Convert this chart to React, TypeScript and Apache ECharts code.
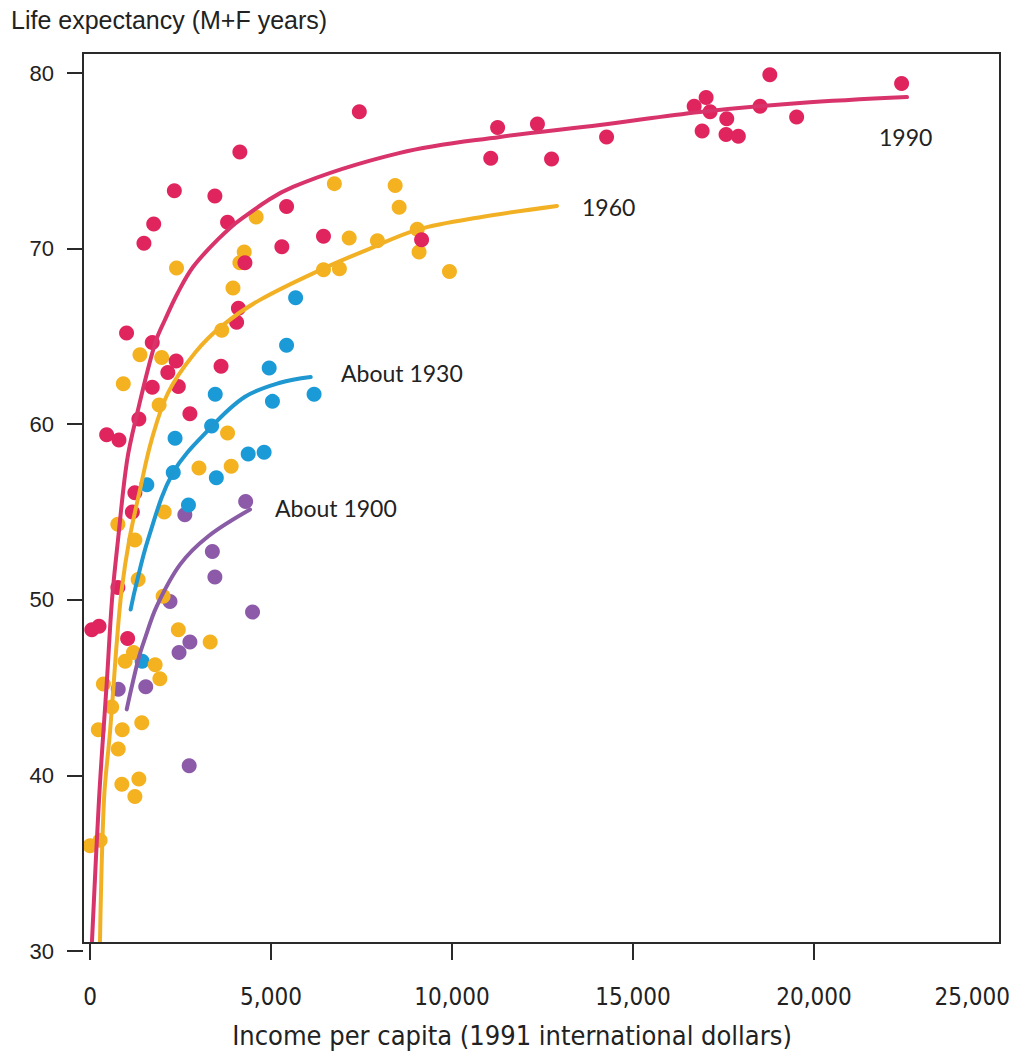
import React, { useEffect, useRef } from "react";
import * as echarts from "echarts";

// ---- axis ticks ----
const xTicks = [0, 5000, 10000, 15000, 20000, 25000];
const xTickLabels = ["0", "5,000", "10,000", "15,000", "20,000", "25,000"];
const yTickLabels = ["30", "40", "50", "60", "70", "80"];

// ---- scatter points [income, life expectancy] ----
const dots1990: [number, number][] = [
  [50, 48.3], [250, 48.5], [460, 59.4], [800, 59.1], [770, 50.7], [1040, 47.8],
  [1010, 65.2], [1170, 55.0], [1240, 56.1], [1350, 60.3], [1490, 70.3], [1760, 71.4],
  [1720, 64.65], [1720, 62.1], [2150, 62.95], [2380, 63.6], [2440, 62.15], [2330, 73.3],
  [2760, 60.6], [3450, 73.0], [3620, 63.3], [3800, 71.5], [4050, 65.8], [4100, 66.6],
  [4140, 75.5], [4280, 69.2], [5300, 70.1], [5430, 72.4], [6450, 70.7], [7440, 77.8],
  [9160, 70.5], [11070, 75.15], [11260, 76.9], [12360, 77.1], [12750, 75.1], [14270, 76.35],
  [16690, 78.1], [17020, 78.6], [17130, 77.8], [16910, 76.7], [17590, 77.4], [17570, 76.5],
  [17910, 76.4], [18510, 78.1], [18780, 79.9], [19520, 77.5], [22420, 79.4],
];
const dots1960: [number, number][] = [
  [0, 36.0], [280, 36.3], [230, 42.6], [370, 45.2], [600, 43.9], [770, 54.3],
  [780, 41.5], [880, 39.5], [920, 62.3], [890, 42.6], [970, 46.5], [1200, 47.0],
  [1240, 38.8], [1240, 53.4], [1330, 51.15], [1350, 39.8], [1380, 63.95], [1430, 43.0],
  [1800, 46.3], [1930, 45.5], [1910, 61.1], [1980, 63.8], [2050, 55.0], [2020, 50.2],
  [2390, 68.9], [2440, 48.3], [3010, 57.5], [3320, 47.6], [3640, 65.35], [3800, 59.5],
  [3900, 57.6], [3950, 67.75], [4260, 69.8], [4140, 69.2], [4590, 71.8], [6450, 68.8],
  [6890, 68.85], [6750, 73.7], [7160, 70.6], [7940, 70.45], [8430, 73.6], [8540, 72.35],
  [9040, 71.1], [9090, 69.8], [9930, 68.7],
];
const dots1930: [number, number][] = [
  [1440, 46.5], [1570, 56.55], [2300, 57.25], [2350, 59.2], [2720, 55.4], [3360, 59.9],
  [3460, 61.7], [3490, 56.95], [4370, 58.3], [4810, 58.4], [4950, 63.2], [5040, 61.3],
  [5430, 64.5], [5680, 67.2], [6190, 61.7],
];
const dots1900: [number, number][] = [
  [780, 44.9], [1540, 45.05], [2210, 49.9], [2460, 47.0], [2620, 54.85], [2760, 47.6],
  [2740, 40.55], [3380, 52.75], [3450, 51.3], [4300, 55.6], [4490, 49.3],
];

// ---- fitted curves ----
const curve1990: [number, number][] = [
  [55, 30.56], [249, 38.63], [470, 45.5], [608, 50.0], [773, 53.4], [1022, 57.9],
  [1290, 60.5], [1796, 64.6], [2072, 65.95], [2430, 67.5], [2845, 68.95], [3500, 70.45],
  [4144, 71.64], [5608, 73.51], [8563, 75.45], [11326, 76.36], [14088, 77.04], [16851, 77.78],
  [19613, 78.29], [22569, 78.63],
];
const curve1960: [number, number][] = [
  [276, 30.56], [387, 38.63], [552, 42.45], [663, 45.46], [746, 47.74], [876, 50.58],
  [1086, 53.43], [1381, 56.27], [1704, 59.12], [2155, 61.79], [2901, 64.07], [3646, 65.6],
  [4696, 67.08], [6547, 68.96], [7652, 69.93], [9033, 71.07], [10856, 71.81], [12900, 72.43],
];
const curve1930: [number, number][] = [
  [1124, 49.45], [1243, 50.58], [1602, 53.43], [2293, 57.24], [3362, 59.87], [4282, 61.56],
  [5249, 62.36], [6097, 62.69],
];
const curve1900: [number, number][] = [
  [1014, 43.76], [1334, 46.6], [1519, 47.8], [1842, 49.63], [2486, 52.0], [3268, 53.62],
  [4420, 55.14],
];

const seriesNames = ["About 1900", "About 1930", "1960", "1990"];
const dotColors = ["#8c5aa8", "#1a9ad6", "#f5b220", "#e0245e"];
const lineColors = ["#8a5ca6", "#1f97d0", "#f2b124", "#d8336a"];

const narrow = '"Liberation Sans Narrow", "DejaVu Sans Condensed", "Liberation Sans", sans-serif';
const labelFont = 'Lato, "Open Sans", sans-serif';

export default function App() {
  const ref = useRef<HTMLDivElement>(null);
  useEffect(() => {
    document.body.style.margin = "0";
    const chart = echarts.init(ref.current!, null, { renderer: "svg" });
    const dotSets = [dots1900, dots1930, dots1960, dots1990];
    const curves = [curve1900, curve1930, curve1960, curve1990];
    const scatterSeries = dotSets.map((d, i) => ({
      name: seriesNames[i] + " points",
      type: "scatter",
      data: d,
      symbol: "circle",
      symbolSize: 15,
      itemStyle: { color: dotColors[i], opacity: 1 },
      z: 2 + i * 0.01,
      silent: true,
    }));
    const lineSeries = curves.map((c, i) => ({
      name: seriesNames[i],
      type: "line",
      data: c,
      smooth: 0.35,
      showSymbol: false,
      symbol: "none",
      lineStyle: { color: lineColors[i], width: 4, cap: "round" },
      z: 5,
      silent: true,
    }));
    const lastLabel = xTickLabels[xTickLabels.length - 1];
    const option = {
      animation: false,
      backgroundColor: "#ffffff",
      grid: {
        left: 90,
        top: 73,
        width: 905,
        height: 878,
        show: false,
        containLabel: false,
        outerBoundsMode: "none",
      },
      xAxis: {
        type: "value",
        min: 0,
        max: 25000,
        interval: 5000,
        offset: -8,
        axisLine: { show: false, onZero: false },
        splitLine: { show: false },
        axisTick: { show: true, length: 17, lineStyle: { color: "#2a2a2a", width: 2 } },
        axisLabel: {
          margin: 42,
          fontSize: 24,
          fontFamily: narrow,
          color: "#222",
          showMaxLabel: false,
          formatter: (v: number) => {
            const k = xTicks.indexOf(v);
            return k >= 0 && k < xTicks.length - 1 ? xTickLabels[k] : "";
          },
        },
      },
      yAxis: {
        type: "value",
        min: 30,
        max: 80,
        interval: 10,
        offset: 7,
        axisLine: { show: false, onZero: false },
        splitLine: { show: false },
        axisTick: { show: true, length: 16, lineStyle: { color: "#2a2a2a", width: 2 } },
        axisLabel: {
          margin: 29,
          fontSize: 22,
          fontFamily: '"Liberation Sans", Arial, sans-serif',
          color: "#222",
          formatter: (v: number) => {
            const s = String(v);
            return yTickLabels.indexOf(s) >= 0 ? s : "";
          },
        },
      },
      graphic: [
        {
          type: "rect",
          shape: { x: 83, y: 53, width: 917, height: 890 },
          style: { fill: "none", stroke: "#2a2a2a", lineWidth: 2 },
          z: 10,
          silent: true,
        },
        {
          type: "text",
          x: 11,
          y: 20,
          style: {
            text: "Life expectancy (M+F years)",
            fontSize: 25,
            fontFamily: '"Liberation Sans", Arial, sans-serif',
            fill: "#222",
            verticalAlign: "middle",
            align: "left",
          },
        },
        {
          type: "text",
          x: 1010,
          y: 985,
          style: {
            text: lastLabel,
            fontSize: 24,
            fontFamily: narrow,
            fill: "#222",
            verticalAlign: "top",
            align: "right",
          },
        },
        {
          type: "text",
          x: 512,
          y: 1035,
          style: {
            text: "Income per capita (1991 international dollars)",
            fontSize: 27,
            fontFamily: narrow,
            fill: "#222",
            verticalAlign: "middle",
            align: "center",
          },
        },
        {
          type: "text", x: 879, y: 137,
          style: { text: "1990", fontSize: 23, fontFamily: labelFont, fill: "#222", verticalAlign: "middle", align: "left" },
        },
        {
          type: "text", x: 582, y: 207,
          style: { text: "1960", fontSize: 23, fontFamily: labelFont, fill: "#222", verticalAlign: "middle", align: "left" },
        },
        {
          type: "text", x: 341, y: 373,
          style: { text: "About 1930", fontSize: 23, fontFamily: labelFont, fill: "#222", verticalAlign: "middle", align: "left" },
        },
        {
          type: "text", x: 275, y: 508,
          style: { text: "About 1900", fontSize: 23, fontFamily: labelFont, fill: "#222", verticalAlign: "middle", align: "left" },
        },
      ],
      series: [...scatterSeries, ...lineSeries],
    };
    chart.setOption(option as any);
    return () => chart.dispose();
  }, []);
  return <div ref={ref} style={{ width: 1013, height: 1054, background: "#fff" }} />;
}
